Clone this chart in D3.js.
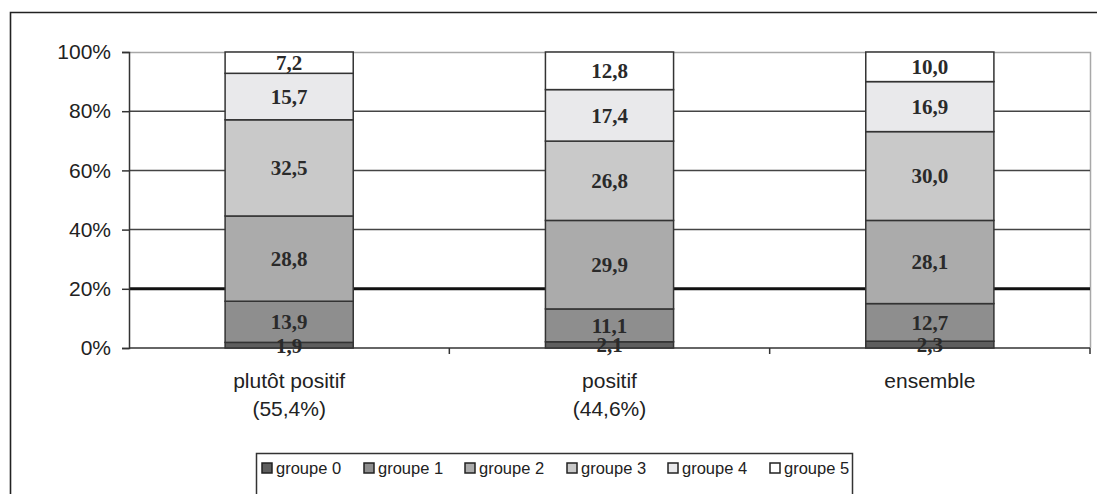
<!DOCTYPE html>
<html>
<head>
<meta charset="utf-8">
<script src="https://cdn.jsdelivr.net/npm/d3@7/dist/d3.min.js"></script>
<style>
  html, body { margin: 0; padding: 0; background: #fff; }
  svg { display: block; }
</style>
</head>
<body>
<svg id="chart" width="1097" height="494"></svg>
<script>
// Category labels (two lines each)
const categories = ["plutôt positif", "positif", "ensemble"];
const categorySubs = ["(55,4%)", "(44,6%)", ""];
const seriesNames = ["groupe 0", "groupe 1", "groupe 2", "groupe 3", "groupe 4", "groupe 5"];
// Percentages per group, one array per category
const plutotPositif = [1.9, 13.9, 28.8, 32.5, 15.7, 7.2];
const positif = [2.1, 11.1, 29.9, 26.8, 17.4, 12.8];
const ensemble = [2.3, 12.7, 28.1, 30.0, 16.9, 10.0];
const yTicks = [0, 20, 40, 60, 80, 100];

const values = [plutotPositif, positif, ensemble];
const colors = ["#5e5e5e", "#8e8e8e", "#ababab", "#c9c9c9", "#e9e9eb", "#ffffff"];

const sans = "Liberation Sans, Arial, sans-serif";
const serif = "Liberation Serif, Times New Roman, serif";

const svg = d3.select("#chart");
const W = 1097, H = 494;
const plot = { left: 129, right: 1090, top: 52, bottom: 348 };

// Outer chart frame
svg.append("path")
  .attr("d", `M10.5,${H + 2} V12.5 H${W + 2}`)
  .attr("fill", "none").attr("stroke", "#222").attr("stroke-width", 1.6);

const x = d3.scaleBand().domain(categories).range([plot.left, plot.right]).paddingInner(0).paddingOuter(0);
const y = d3.scaleLinear().domain([0, 100]).range([plot.bottom, plot.top]);
const barW = x.bandwidth() * 0.4;

// Plot area border (top/right)
svg.append("path")
  .attr("d", `M${plot.left},${plot.top + 0.5} H${plot.right + 0.5} V${plot.bottom}`)
  .attr("fill", "none").attr("stroke", "#a8a8a8").attr("stroke-width", 1.5);

// Gridlines
svg.append("g").selectAll("line")
  .data(yTicks.filter(t => t > 0 && t < 100))
  .join("line")
  .attr("x1", plot.left).attr("x2", plot.right)
  .attr("y1", d => y(d)).attr("y2", d => y(d))
  .attr("stroke", d => d === 20 ? "#111" : "#444")
  .attr("stroke-width", d => d === 20 ? 3 : 1.5);

// Y axis
const yAxis = svg.append("g")
  .attr("transform", `translate(${plot.left},0)`)
  .call(d3.axisLeft(y).tickValues(yTicks).tickSize(7).tickPadding(11).tickFormat(d => d + "%"));
yAxis.select(".domain").attr("stroke", "#333").attr("stroke-width", 1.5);
yAxis.selectAll(".tick line").attr("stroke", "#333").attr("stroke-width", 1.5);
yAxis.selectAll("text")
  .attr("font-family", sans)
  .attr("font-size", 21).attr("fill", "#222");

// X axis with ticks at category boundaries
const xAxisG = svg.append("g").attr("transform", `translate(0,${plot.bottom})`);
xAxisG.append("line")
  .attr("x1", plot.left).attr("x2", plot.right)
  .attr("stroke", "#333").attr("stroke-width", 1.5);
xAxisG.selectAll("line.tk")
  .data(categories)
  .join("line").attr("class", "tk")
  .attr("x1", d => x(d) + x.bandwidth()).attr("x2", d => x(d) + x.bandwidth())
  .attr("y1", 0).attr("y2", 6)
  .attr("stroke", "#333").attr("stroke-width", 1.5);

// Stacked bars
const stackData = categories.map((c, i) => {
  let acc = 0;
  return values[i].map((v, k) => {
    const seg = { cat: c, k, v, y0: acc, y1: acc + v };
    acc += v;
    return seg;
  });
});

const barG = svg.append("g");
stackData.forEach(segs => {
  barG.selectAll(null)
    .data(segs)
    .enter().append("rect")
    .attr("x", d => x(d.cat) + (x.bandwidth() - barW) / 2)
    .attr("width", barW)
    .attr("y", d => y(Math.min(d.y1, 100)))
    .attr("height", d => y(d.y0) - y(Math.min(d.y1, 100)))
    .attr("fill", d => colors[d.k])
    .attr("stroke", "#333").attr("stroke-width", 1.5);
});

// Value labels
stackData.forEach(segs => {
  barG.selectAll(null)
    .data(segs)
    .enter().append("text")
    .attr("x", d => x(d.cat) + x.bandwidth() / 2)
    .attr("y", d => y((d.y0 + Math.min(d.y1, 100)) / 2))
    .attr("dy", "0.35em")
    .attr("text-anchor", "middle")
    .attr("font-family", serif)
    .attr("font-weight", "bold")
    .attr("font-size", 21)
    .attr("fill", "#2a2a2a")
    .text(d => d.v.toFixed(1).replace(".", ","));
});

// Category labels
const catG = svg.append("g")
  .attr("font-family", sans)
  .attr("font-size", 21).attr("fill", "#222").attr("text-anchor", "middle");
catG.selectAll("text.c1").data(categories).join("text").attr("class", "c1")
  .attr("x", d => x(d) + x.bandwidth() / 2).attr("y", 388).text(d => d);
catG.selectAll("text.c2").data(categorySubs).join("text").attr("class", "c2")
  .attr("x", (d, i) => x(categories[i]) + x.bandwidth() / 2).attr("y", 416).text(d => d);

// Legend
const legX = 256, legY = 453, legW = 596;
svg.append("rect")
  .attr("x", legX + 0.5).attr("y", legY + 0.5)
  .attr("width", legW).attr("height", 60)
  .attr("fill", "#fff").attr("stroke", "#333").attr("stroke-width", 1.5);

const legendXs = [262, 364, 465, 567, 668, 770];
const leg = svg.append("g");
const items = leg.selectAll("g").data(seriesNames).join("g")
  .attr("transform", (d, i) => `translate(${legendXs[i]},${legY + 15})`);
items.append("rect")
  .attr("x", 0).attr("y", -5).attr("width", 10).attr("height", 10)
  .attr("fill", (d, i) => colors[i]).attr("stroke", "#222").attr("stroke-width", 1.5);
items.append("text")
  .attr("x", 14).attr("y", 0).attr("dy", "0.36em")
  .attr("font-family", sans)
  .attr("font-size", 16.5).attr("fill", "#222")
  .text(d => d);
</script>
</body>
</html>
